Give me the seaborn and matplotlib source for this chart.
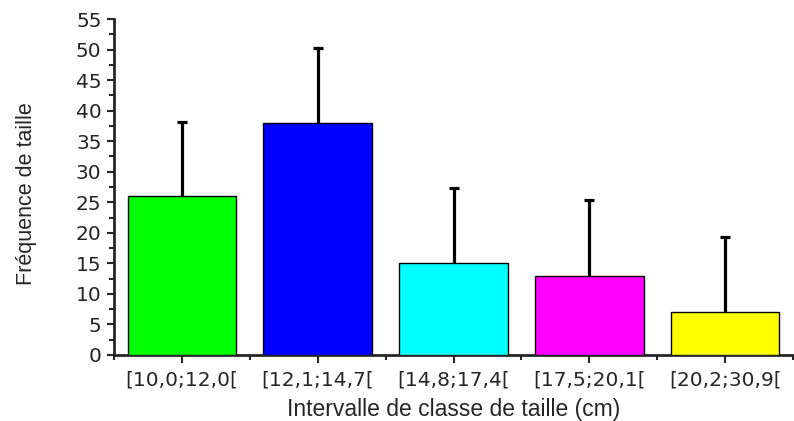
import matplotlib
matplotlib.use("Agg")
import matplotlib.pyplot as plt
import seaborn as sns
import pandas as pd
import numpy as np
from matplotlib.ticker import MultipleLocator

categories = ["[10,0;12,0[", "[12,1;14,7[", "[14,8;17,4[", "[17,5;20,1[", "[20,2;30,9["]
values = [26, 38, 15, 13, 7]
errors = [12.2, 12.2, 12.3, 12.3, 12.3]
colors = ["#00ff00", "#0000ff", "#00ffff", "#ff00ff", "#ffff00"]

sns.set_style("ticks")
plt.rcParams['font.family'] = ['Liberation Sans', 'DejaVu Sans']

df = pd.DataFrame({"cat": categories, "val": values})

fig = plt.figure(figsize=(7.94, 4.21), dpi=100)
ax = fig.add_axes([114/794, 1 - 355/421, (793-114)/794, (355-19)/421])

sns.barplot(data=df, x="cat", y="val", hue="cat", palette=colors, legend=False,
            width=0.8, edgecolor="black", linewidth=1, ax=ax, saturation=1, zorder=3)
eb = ax.errorbar(np.arange(len(values)), values, yerr=[np.zeros(len(errors)), errors],
                 fmt="none", ecolor="black", elinewidth=2.3, capsize=3.3, capthick=2.3, zorder=2)
# keep only the upper caps
eb[1][0].set_visible(False)

ax.set_xlim(-0.5, 4.5)
ax.set_ylim(0, 55)
ax.yaxis.set_major_locator(MultipleLocator(5))
ax.yaxis.set_minor_locator(MultipleLocator(2.5))
ax.xaxis.set_minor_locator(MultipleLocator(1, offset=0.5))
for s in ["top", "right"]:
    ax.spines[s].set_visible(False)
for s in ["left", "bottom"]:
    ax.spines[s].set_linewidth(2)
ax.tick_params(axis="y", which="major", direction="out", length=5, width=1.5)
ax.tick_params(axis="y", which="minor", direction="out", length=3.5, width=1.5)
ax.tick_params(axis="x", which="major", direction="out", length=6, width=1.5)
ax.tick_params(axis="x", which="minor", direction="out", length=3.5, width=1.5)
ax.tick_params(axis="y", which="major", labelsize=14.5, pad=4, labelfontfamily="DejaVu Sans")
ax.tick_params(axis="x", which="major", labelsize=14.5, pad=5, labelfontfamily="DejaVu Sans")
ax.set_xlabel("Intervalle de classe de taille (cm)", fontsize=16.5, labelpad=6)
ax.set_ylabel("Fréquence de taille", fontsize=15.5)
ax.yaxis.set_label_coords(-0.113, 0.48)

fig.savefig("out.png", dpi=100)
